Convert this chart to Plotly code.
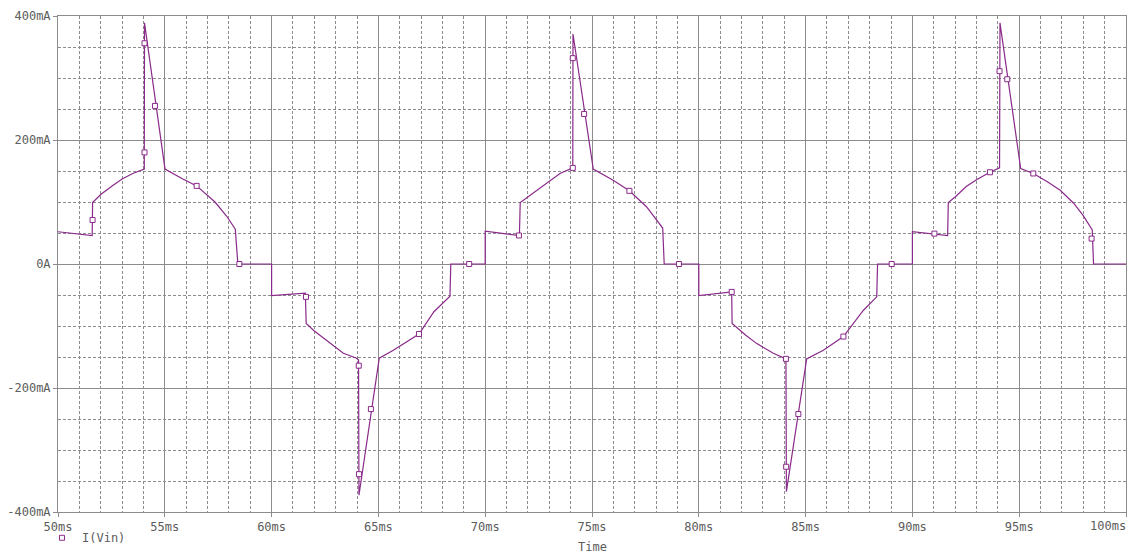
import plotly.graph_objects as go

# Time (ms) and current (mA) of the I(Vin) waveform
time_ms = [
    50.0, 51.6, 51.62, 52.0, 52.5, 53.0, 53.5, 54.04, 54.05, 55.01, 55.8, 56.49, 57.35, 57.9, 58.3, 58.42, 60.0,
    60.0, 61.58, 61.62, 62.0, 62.58, 63.36, 63.98, 64.07, 64.09, 65.04, 65.7, 66.9, 67.6, 68.35, 68.39, 70.0,
    70.0, 71.6, 71.64, 72.1, 72.88, 73.5, 74.1, 74.11, 75.06, 75.99, 76.75, 77.56, 78.31, 78.38, 80.0,
    80.0, 81.54, 81.56, 82.2, 82.7, 83.49, 84.08, 84.1, 85.05, 85.83, 86.77, 87.7, 88.33, 88.37, 90.0,
    90.0, 91.65, 91.68, 92.0, 92.52, 93.0, 93.63, 94.08, 94.1, 95.07, 95.66, 96.3, 96.92, 97.55, 98.0, 98.42, 98.48, 100.0,
]
current_ma = [
    52, 46, 99, 112, 125, 137, 146, 153, 389, 153, 138, 126, 100, 77, 56, 0, 0,
    -51, -47, -96, -108, -123, -144, -152, -155, -373, -152, -139, -113, -77, -52, 0, 0,
    53, 46, 99, 111, 130, 146, 155, 371, 153, 135, 118, 92, 58, 0, 0,
    -51, -45, -96, -115, -128, -144, -153, -367, -153, -139, -117, -75, -53, 0, 0,
    52, 46, 99, 108, 125, 136, 148, 155, 389, 154, 146, 133, 119, 98, 78, 55, 0, 0,
]

# Plot symbols placed along the trace
marker_t = [51.62, 54.05, 54.05, 54.54, 56.49, 58.49,
            61.61, 64.08, 64.09, 64.65, 66.9, 69.25,
            71.58, 74.1, 74.1, 74.63, 76.75, 79.07,
            81.54, 84.08, 84.09, 84.66, 86.77, 89.03,
            91.03, 93.63, 94.08, 94.44, 95.66, 98.39]
marker_v = [71, 356, 180, 255, 126, 0,
            -53, -164, -339, -234, -113, 0,
            46, 155, 332, 242, 118, 0,
            -45, -153, -327, -242, -117, 0,
            49, 148, 311, 298, 146, 41]

x_tickvals = [50, 55, 60, 65, 70, 75, 80, 85, 90, 95, 100]
x_ticktext = ["50ms", "55ms", "60ms", "65ms", "70ms", "75ms", "80ms", "85ms", "90ms", "95ms", ""]
x_last_label = "100ms"
y_tickvals = [400, 200, 0, -200, -400]
y_ticktext = ["400mA", "200mA", "0A", "-200mA", "-400mA"]

TRACE = "#8a2a8a"
GRID = "#8c8c8c"
FONT = dict(family="DejaVu Sans Mono", size=12, color="#5c5c5c")

fig = go.Figure()
fig.add_trace(go.Scatter(x=time_ms, y=current_ma, mode="lines",
                         line=dict(color=TRACE, width=1.2), showlegend=False,
                         hoverinfo="skip"))
fig.add_trace(go.Scatter(x=marker_t, y=marker_v, mode="markers", name="I(Vin)",
                         marker=dict(symbol="square", size=5, color="white",
                                     line=dict(color=TRACE, width=1))))

fig.update_layout(
    width=1129, height=554,
    margin=dict(l=58, r=3, t=16, b=42, autoexpand=False),
    paper_bgcolor="white", plot_bgcolor="white",
    font=FONT,
    legend=dict(x=-0.015, y=-0.052, xanchor="left", yanchor="middle",
                bgcolor="rgba(0,0,0,0)", font=FONT, itemwidth=30),
    annotations=[
        dict(text="Time", x=0.5, y=-0.071, xref="paper", yref="paper",
             xanchor="center", yanchor="middle", showarrow=False, font=FONT),
        dict(text=x_last_label, x=1.0, y=-0.029, xref="paper", yref="paper",
             xanchor="right", yanchor="middle", xshift=2, showarrow=False, font=FONT),
    ],
)
fig.update_xaxes(
    range=[50, 100], tickvals=x_tickvals, ticktext=x_ticktext,
    automargin=False,
    showgrid=True, gridcolor=GRID, gridwidth=1,
    minor=dict(dtick=1, showgrid=True, gridcolor=GRID, griddash="3px,2px", gridwidth=1),
    showline=True, linecolor=GRID, linewidth=1, mirror=True,
    ticks="outside", ticklen=4, tickcolor=GRID, zeroline=False,
)
fig.update_yaxes(
    range=[-400, 400], tickvals=y_tickvals, ticktext=y_ticktext,
    automargin=False,
    showgrid=True, gridcolor=GRID, gridwidth=1,
    minor=dict(dtick=50, showgrid=True, gridcolor=GRID, griddash="3px,2px", gridwidth=1),
    showline=True, linecolor=GRID, linewidth=1, mirror=True,
    ticks="outside", ticklen=4, tickcolor=GRID, zeroline=False,
)

fig.write_html("out.html")
